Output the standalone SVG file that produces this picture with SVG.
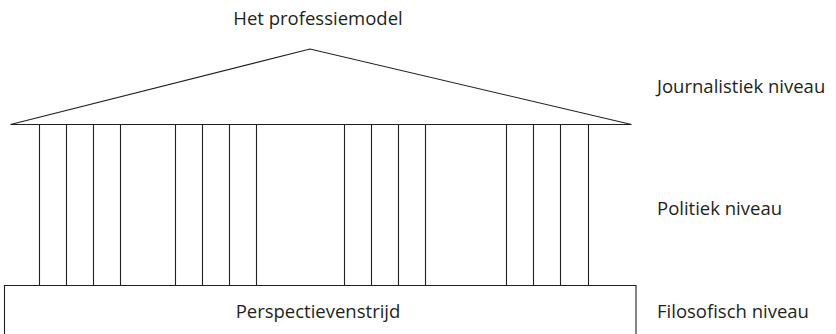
<svg xmlns="http://www.w3.org/2000/svg" width="836" height="334" viewBox="0 0 836 334">
<style>
.ln{fill:none;stroke:#231f20;stroke-width:1.1}
.t{font-family:"Open Sans","Liberation Sans",sans-serif;font-size:18.5px;fill:#231f20}
</style>
<rect width="836" height="334" fill="#fff"/>
<g id="roof">
<polygon class="ln" points="10.5,124.5 310,49 631.5,124.5"/>
<text class="t" x="318" y="25" text-anchor="middle">Het professiemodel</text>
</g>
<g id="columns">
<path class="ln" d="M39.5,124.5V286 M66.5,124.5V286 M93.5,124.5V286 M120.5,124.5V286 M175.5,124.5V286 M202.5,124.5V286 M229.5,124.5V286 M256.5,124.5V286 M344.5,124.5V286 M371.5,124.5V286 M398.5,124.5V286 M425.5,124.5V286 M506.5,124.5V286 M533.5,124.5V286 M560.5,124.5V286 M588.5,124.5V286"/>
</g>
<g id="base">
<path class="ln" d="M4.5,340V285.5H636V340"/>
<text class="t" x="318" y="318" text-anchor="middle">Perspectievenstrijd</text>
</g>
<g id="labels">
<text class="t" x="657" y="92.5">Journalistiek niveau</text>
<text class="t" x="657" y="215">Politiek niveau</text>
<text class="t" x="657" y="318">Filosofisch niveau</text>
</g>
</svg>
